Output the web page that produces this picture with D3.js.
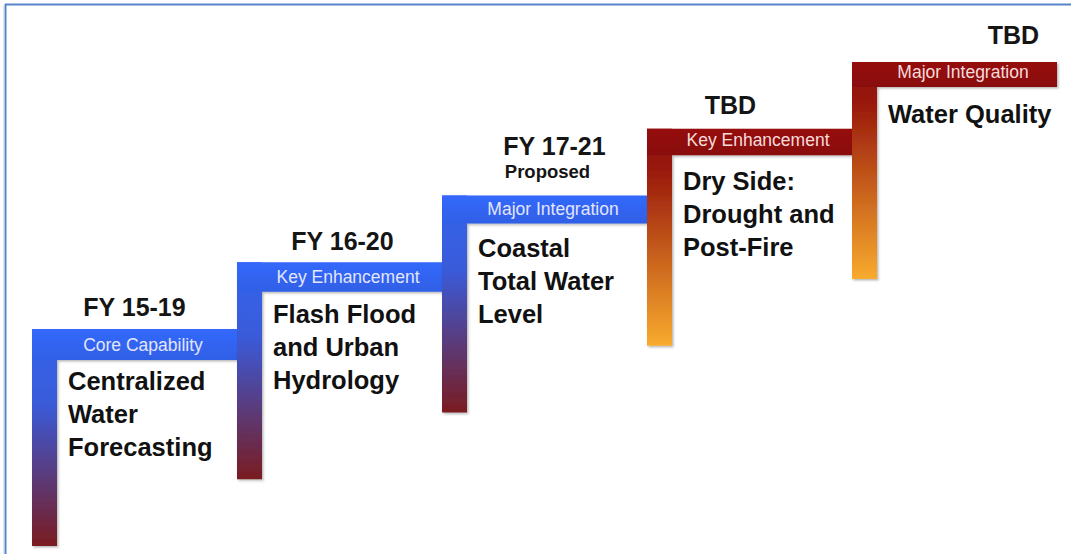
<!DOCTYPE html>
<html>
<head>
<meta charset="utf-8">
<script src="https://cdn.jsdelivr.net/npm/d3@7"></script>
<style>
  html, body { margin: 0; padding: 0; background: #fff; }
  svg { display: block; }
</style>
</head>
<body>
<svg id="chart" width="1071" height="554"></svg>
<script>
// ---- data ----
const levels = [1, 2, 3, 4, 5];
const periods = ["FY 15-19", "FY 16-20", "FY 17-21", "TBD", "TBD"];
const notes = ["", "", "Proposed", "", ""];
const tiers = ["Core Capability", "Key Enhancement", "Major Integration", "Key Enhancement", "Major Integration"];
const capabilities = [
  ["Centralized", "Water", "Forecasting"],
  ["Flash Flood", "and Urban", "Hydrology"],
  ["Coastal", "Total Water", "Level"],
  ["Dry Side:", "Drought and", "Post-Fire"],
  ["Water Quality"]
];
const phases = ["current", "current", "current", "future", "future"];

// ---- layout ----
const W = 1071, H = 554;
const svg = d3.select("#chart");
const x = d3.scaleLinear().domain([1, 5]).range([32, 852]);
const y = d3.scaleLinear().domain([1, 5]).range([329, 62]);
const stepW = x(2) - x(1);
const barW = 25;
const drop = 217;
const headH = d => 31 - 1.5 * (d - 1);
const labelDx = [0, 3, 10, -19, 59];
const labelDy = [-13, -12, -41, -15, -18];

const theme = {
  current: { head: "#3163ee", top: "#3366ee", bottom: "#7a1c20", text: "#e2e6ff" },
  future:  { head: "#8e1010", top: "#8a0c0c", bottom: "#f8ab2e", text: "#f7dcdc" }
};

const defs = svg.append("defs");
Object.entries(theme).forEach(([k, t]) => {
  const g = defs.append("linearGradient").attr("id", "grad-" + k)
    .attr("x1", 0).attr("y1", 0).attr("x2", 0).attr("y2", 1);
  g.append("stop").attr("offset", "0%").attr("stop-color", t.top);
  if (k === "current") g.append("stop").attr("offset", "35%").attr("stop-color", "#3a5ad8");
  else g.append("stop").attr("offset", "20%").attr("stop-color", "#9a1a0c");
  g.append("stop").attr("offset", "100%").attr("stop-color", t.bottom);
  const hg = defs.append("linearGradient").attr("id", "head-" + k)
    .attr("x1", 0).attr("y1", 0).attr("x2", 0).attr("y2", 1);
  hg.append("stop").attr("offset", "0%").attr("stop-color", d3.color(t.head).brighter(0.15));
  hg.append("stop").attr("offset", "100%").attr("stop-color", d3.color(t.head).darker(0.1));
});
const f = defs.append("filter").attr("id", "shadow").attr("x", "-10%").attr("y", "-10%")
  .attr("width", "130%").attr("height", "130%");
f.append("feDropShadow").attr("dx", 1.5).attr("dy", 1.5).attr("stdDeviation", 1.2)
  .attr("flood-color", "#333").attr("flood-opacity", 0.35);

// frame (top and left edges)
svg.append("line").attr("x1", 5).attr("x2", W).attr("y1", 4.5).attr("y2", 4.5)
  .attr("stroke", "#5584c8").attr("stroke-width", 2);
svg.append("line").attr("x1", 5.5).attr("x2", 5.5).attr("y1", 4).attr("y2", H)
  .attr("stroke", "#5584c8").attr("stroke-width", 2);
svg.append("line").attr("x1", 4).attr("x2", 4).attr("y1", 6).attr("y2", H)
  .attr("stroke", "#b7cbe8").attr("stroke-width", 1);

const steps = svg.selectAll("g.step").data(levels).join("g").attr("class", "step");

steps.each(function (d, i) {
  const g = d3.select(this);
  const t = theme[phases[i]];
  const left = x(d), top = y(d), hh = headH(d);

  const shape = g.append("g").attr("filter", "url(#shadow)");
  shape.append("rect")
    .attr("x", left).attr("y", top).attr("width", barW).attr("height", drop)
    .attr("fill", "url(#grad-" + phases[i] + ")");
  shape.append("rect")
    .attr("x", left).attr("y", top).attr("width", stepW).attr("height", hh)
    .attr("fill", "url(#head-" + phases[i] + ")");

  // tier label in header
  g.append("text")
    .attr("x", left + barW + (stepW - barW) / 2 - 4)
    .attr("y", top + hh - 9)
    .attr("text-anchor", "middle")
    .attr("font-family", "'Liberation Sans', Arial, sans-serif")
    .attr("font-size", 17.5)
    .attr("fill", t.text)
    .text(tiers[i]);

  // period label
  g.append("text")
    .attr("x", left + stepW / 2 + labelDx[i])
    .attr("y", top + labelDy[i])
    .attr("text-anchor", "middle")
    .attr("font-family", "'Liberation Sans', Arial, sans-serif")
    .attr("font-weight", "bold")
    .attr("font-size", 25)
    .attr("fill", "#151515")
    .text(periods[i]);

  if (notes[i]) {
    g.append("text")
      .attr("x", left + stepW / 2 + 3)
      .attr("y", top - 18)
      .attr("text-anchor", "middle")
      .attr("font-family", "'Liberation Sans', Arial, sans-serif")
      .attr("font-weight", "bold")
      .attr("font-size", 18.5)
      .attr("fill", "#151515")
      .text(notes[i]);
  }

  // capability description
  const desc = g.append("text")
    .attr("font-family", "'Liberation Sans', Arial, sans-serif")
    .attr("font-weight", "bold")
    .attr("font-size", 25.5)
    .attr("fill", "#111");
  capabilities[i].forEach((line, j) => {
    desc.append("tspan")
      .attr("x", left + barW + 11)
      .attr("y", top + 61 + j * 33)
      .text(line);
  });
});
</script>
</body>
</html>
